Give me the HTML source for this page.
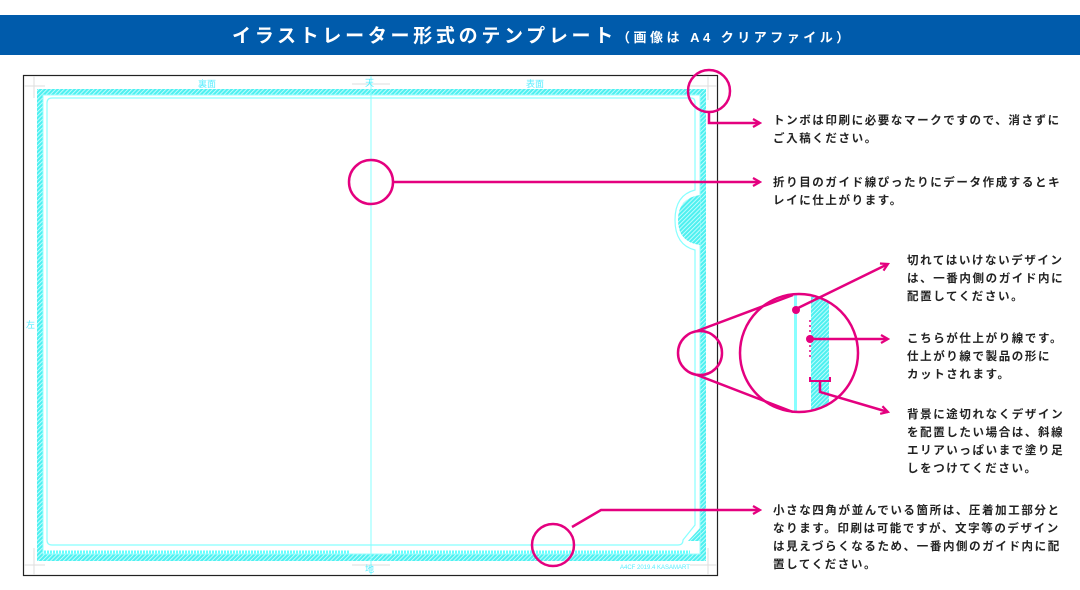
<!DOCTYPE html>
<html><head><meta charset="utf-8"><style>
html,body{margin:0;padding:0;background:#fff}
svg{display:block}
.t{font-family:"Liberation Sans","Noto Sans CJK JP",sans-serif;font-size:11.5px;font-weight:bold;fill:#222;letter-spacing:1.6px}
</style></head><body>
<svg width="1080" height="590" viewBox="0 0 1080 590" xmlns="http://www.w3.org/2000/svg">
<defs>
<pattern id="h" width="3" height="3" patternUnits="userSpaceOnUse" patternTransform="rotate(45)">
<rect width="3" height="3" fill="#4ef0f0"/><rect width="0.8" height="3" fill="#d8ffff"/></pattern>
<clipPath id="cc"><circle cx="799" cy="353" r="58"/></clipPath>
<marker id="a" markerWidth="10" markerHeight="10" refX="8" refY="5" orient="auto" markerUnits="userSpaceOnUse"><path d="M1,1 L8,5 L1,9" fill="none" stroke="#e4007f" stroke-width="2.2"/></marker>
</defs>
<rect x="0" y="15" width="1080" height="40" fill="#005bab"/>
<text x="232" y="42" font-family="'Liberation Sans','Noto Sans CJK JP',sans-serif" font-size="19" font-weight="bold" fill="#fff" letter-spacing="3.7">イラストレーター形式のテンプレート<tspan font-size="13" letter-spacing="3.5">（画像は A4 クリアファイル）</tspan></text>

<rect x="23.5" y="75.5" width="694" height="500" fill="#fff" stroke="#222" stroke-width="1.2"/>
<g stroke="#ddd" stroke-width="1"><line x1="24" y1="86" x2="45" y2="86"/><line x1="34" y1="76" x2="34" y2="98"/><line x1="24" y1="565" x2="45" y2="565"/><line x1="34" y1="548" x2="34" y2="575"/><line x1="690" y1="86" x2="717" y2="86"/><line x1="708" y1="76" x2="708" y2="100"/><line x1="690" y1="565" x2="717" y2="565"/><line x1="708" y1="548" x2="708" y2="575"/>
<line x1="352" y1="84" x2="390" y2="84"/><line x1="352" y1="565" x2="390" y2="565"/></g>
<path d="M37,89 H706 V561 H37 Z M43,95 V554 H700 V95 Z" fill="url(#h)" fill-rule="evenodd"/>
<path d="M43,95 H700 V554 H43 Z" fill="none" stroke="#9ff" stroke-width="1"/>
<line x1="44" y1="552" x2="350" y2="552" stroke="#6ff" stroke-width="3" stroke-dasharray="2,1"/>
<line x1="392" y1="552" x2="690" y2="552" stroke="#6ff" stroke-width="3" stroke-dasharray="2,1"/>
<path d="M52,98 H691 Q695,98 695,102 V190 Q675,195 675,220 Q675,245 695,250 V525 L683,540 Q683,545 678,545 H52 Q47,545 47,540 V103 Q47,98 52,98 Z" fill="none" stroke="#8ff" stroke-width="1.2"/>
<path d="M700,195 Q678,198 678,220 Q678,242 700,245 Z" fill="url(#h)"/>
<path d="M700,528 L688,541 H700 Z" fill="url(#h)"/>
<line x1="371" y1="76" x2="371" y2="575" stroke="#8ff" stroke-width="1"/>
<g font-family="'Liberation Sans','Noto Sans CJK JP',sans-serif" font-size="9" fill="#5ef">
<text x="198" y="87">裏面</text><text x="365" y="86">天</text><text x="526" y="87">表面</text><text x="365" y="572">地</text><text x="26" y="328">左</text>
<text x="620" y="569" font-size="6">A4CF  2019.4  KASAMART</text></g>

<g clip-path="url(#cc)">
<rect x="794" y="290" width="3" height="130" fill="#8ff"/>
<rect x="811" y="290" width="18" height="130" fill="url(#h)"/>
</g>
<g stroke="#e4007f" stroke-width="2.5" fill="none">
<circle cx="709" cy="91" r="21"/>
<polyline points="709,112 709,123 760,123" marker-end="url(#a)"/>
<circle cx="371" cy="182" r="22"/>
<line x1="393" y1="182" x2="760" y2="182" marker-end="url(#a)"/>
<circle cx="700" cy="353" r="22"/>
<line x1="697" y1="331" x2="793" y2="295"/>
<line x1="697" y1="375" x2="793" y2="412"/>
<circle cx="799" cy="353" r="59"/>
<line x1="796" y1="309" x2="888" y2="264" marker-end="url(#a)"/>
<line x1="810" y1="339" x2="888" y2="339" marker-end="url(#a)"/>
<polyline points="810,377 810,381 830,381 830,377" stroke-width="2"/>
<polyline points="820,381 820,392 888,412" marker-end="url(#a)"/>
<circle cx="553" cy="545" r="21"/>
<polyline points="572,527 601,510 760,510" marker-end="url(#a)"/>
</g>
<line x1="810" y1="320" x2="810" y2="360" stroke="#e4007f" stroke-width="1.5" stroke-dasharray="2,3"/>
<circle cx="796" cy="310" r="4" fill="#e4007f"/>
<circle cx="810" cy="339" r="4" fill="#e4007f"/>

<text class="t" x="773" y="124">トンボは印刷に必要なマークですので、消さずに</text>
<text class="t" x="773" y="142">ご入稿ください。</text>
<text class="t" x="773" y="186">折り目のガイド線ぴったりにデータ作成するとキ</text>
<text class="t" x="773" y="204">レイに仕上がります。</text>
<text class="t" x="907" y="264">切れてはいけないデザイン</text>
<text class="t" x="907" y="282">は、一番内側のガイド内に</text>
<text class="t" x="907" y="300">配置してください。</text>
<text class="t" x="907" y="342">こちらが仕上がり線です。</text>
<text class="t" x="907" y="360">仕上がり線で製品の形に</text>
<text class="t" x="907" y="378">カットされます。</text>
<text class="t" x="907" y="418">背景に途切れなくデザイン</text>
<text class="t" x="907" y="436">を配置したい場合は、斜線</text>
<text class="t" x="907" y="454">エリアいっぱいまで塗り足</text>
<text class="t" x="907" y="472">しをつけてください。</text>
<text class="t" x="773" y="514">小さな四角が並んでいる箇所は、圧着加工部分と</text>
<text class="t" x="773" y="532">なります。印刷は可能ですが、文字等のデザイン</text>
<text class="t" x="773" y="550">は見えづらくなるため、一番内側のガイド内に配</text>
<text class="t" x="773" y="568">置してください。</text>
</svg>
</body></html>
